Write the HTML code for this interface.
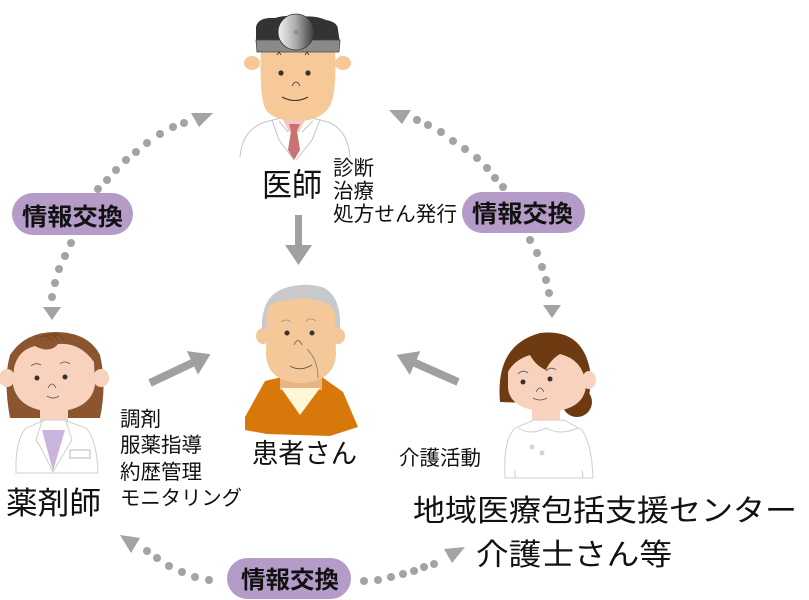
<!DOCTYPE html>
<html><head><meta charset="utf-8"><style>
html,body{margin:0;padding:0;background:#fff;}
svg{display:block;}
text{font-family:"Liberation Sans","Noto Sans CJK JP",sans-serif;fill:#111;}
.b{font-weight:bold;}
</style></head><body>
<svg width="809" height="600" viewBox="0 0 809 600" xmlns="http://www.w3.org/2000/svg">
<defs>
<linearGradient id="mir" x1="0" y1="0" x2="1" y2="0">
<stop offset="0" stop-color="#f2f2f2"/><stop offset="0.5" stop-color="#aaa"/><stop offset="1" stop-color="#3a3a3a"/>
</linearGradient>
</defs>

<!-- ===== Doctor ===== -->
<path d="M240,157 Q242,130 265,122 L285,117 L308,117 L328,122 Q348,130 350,157" fill="#fff" stroke="#c4c4c4" stroke-width="1"/>
<polygon points="282,118 306,118 299,132 289,132" fill="#f5c6c6"/>
<polygon points="289,124 300,124 297,131 300,150 294,160 288,150 291,131" fill="#c87272"/>
<path d="M272,120 L279,140 L294,160 M320,120 L312,140 L296,160 M279,121 L288,132 M313,121 L302,132" fill="none" stroke="#c4c4c4" stroke-width="1"/>
<ellipse cx="252" cy="63" rx="8" ry="7" fill="#f7c898"/>
<ellipse cx="343" cy="63" rx="8" ry="7" fill="#f7c898"/>
<path d="M261,48 L335,48 Q337,92 330,106 Q320,121 298,121 Q274,121 266,110 Q259,98 261,48 Z" fill="#f7c898"/>
<path d="M256,43 L256,27 Q258,17 275,18 Q288,14 296,18 Q312,14 326,20 Q338,22 338,30 L340,43 Z" fill="#333"/>
<polygon points="256,40 340,40 339,52 257,52" fill="#8a8a8a" stroke="#444" stroke-width="0.8"/>
<circle cx="296" cy="32" r="18" fill="url(#mir)" stroke="#333" stroke-width="0.8"/>
<circle cx="296" cy="32" r="1.5" fill="none" stroke="#555" stroke-width="0.6"/>
<path d="M277,55 l2,-3 l2,3 M305,55 l2,-3 l2,3" fill="none" stroke="#333" stroke-width="0.8"/>
<circle cx="281" cy="73" r="2.6" fill="#333"/>
<circle cx="308" cy="73" r="2.6" fill="#333"/>
<path d="M292,86 Q296,78 300,86" fill="none" stroke="#333" stroke-width="0.8"/>
<path d="M282,97 Q295,104 308,97" fill="none" stroke="#333" stroke-width="1"/>

<text x="262" y="196" font-size="32" textLength="60" lengthAdjust="spacingAndGlyphs">医師</text>
<text x="333" y="175" font-size="20.5">診断</text>
<text x="333" y="198" font-size="20.5">治療</text>
<text x="333" y="221" font-size="20.5" textLength="124" lengthAdjust="spacingAndGlyphs">処方せん発行</text>

<!-- down arrow -->
<polygon points="295,215 302,215 302,245 312,245 298.5,265 285,245 295,245" fill="#a0a0a0"/>

<!-- ===== Patient ===== -->
<polygon points="245,417 265,381 282,377 322,377 343,392 358,427 330,436 267,434 245,430" fill="#d9780a"/>
<path d="M280,377 L322,377 L322,390 L280,390 Z" fill="#e9b483"/>
<polygon points="281,388 320,388 300,415" fill="#fff8d8"/>
<path d="M262,332 Q260,296 285,288 Q303,282 322,287 Q342,295 340,332 Z" fill="#c8c9ca"/>
<ellipse cx="263" cy="336" rx="7" ry="8" fill="#f4c898"/>
<ellipse cx="338" cy="336" rx="7" ry="8" fill="#f4c898"/>
<path d="M267,310 Q272,300 286,301 Q300,296 314,300 Q332,302 335,314 L336,355 Q334,382 300,383 Q268,382 266,355 Z" fill="#f4c898"/>
<path d="M281,322 Q286,318 291,322 M306,321 Q311,317 316,321" fill="none" stroke="#999" stroke-width="0.8"/>
<circle cx="287" cy="333" r="2.5" fill="#333"/>
<circle cx="312" cy="333" r="2.5" fill="#333"/>
<path d="M294,345 Q298,336 302,345" fill="none" stroke="#555" stroke-width="0.8"/>
<path d="M290,366 Q300,372 312,365" fill="none" stroke="#555" stroke-width="0.9"/>
<path d="M307,349 Q318,360 318,378" fill="none" stroke="#777" stroke-width="0.8"/>

<text x="252" y="463" font-size="27" textLength="105" lengthAdjust="spacingAndGlyphs">患者さん</text>

<!-- ===== Pharmacist ===== -->
<path d="M10,418 Q3,380 10,355 Q25,332 55,332 Q88,332 100,355 Q107,385 100,418 Z" fill="#8b5530"/>
<ellipse cx="7" cy="378" rx="8" ry="9" fill="#f8d2bc"/>
<ellipse cx="101" cy="378" rx="8" ry="9" fill="#f8d2bc"/>
<path d="M40,404 L68,404 L68,426 L40,426 Z" fill="#f8d2bc"/>
<path d="M16,473 Q15,440 26,428 L45,420 L64,420 L86,428 Q97,440 98,473 Z" fill="#fff" stroke="#cfcfcf" stroke-width="1"/>
<polygon points="42,430 65,430 53,471" fill="#c8b4dc"/>
<path d="M42,421 L36,440 L41,448 L53,472 M66,421 L72,440 L67,448 L53,472" fill="none" stroke="#cfcfcf" stroke-width="1"/>
<rect x="70" y="450" width="20" height="8" fill="#fff" stroke="#aaa" stroke-width="0.8"/>
<path d="M14,368 Q18,350 35,346 Q50,354 58,344 Q80,342 94,362 L95,385 Q91,410 54,412 Q18,410 13,385 Z" fill="#f8d2bc"/>
<path d="M40,338 Q45,333 52,340 M46,336 Q52,332 58,340 M52,335 Q58,332 64,340" fill="none" stroke="#6e3f1e" stroke-width="0.8"/>
<path d="M31,366 Q36,362 41,365 M60,364 Q65,360 70,364" fill="none" stroke="#555" stroke-width="0.8"/>
<circle cx="37" cy="378" r="2.5" fill="#333"/>
<circle cx="65" cy="377" r="2.5" fill="#333"/>
<path d="M48,388 Q52,380 56,388" fill="none" stroke="#555" stroke-width="0.8"/>
<path d="M47,396 Q53,400 59,396" fill="none" stroke="#555" stroke-width="0.8"/>

<text x="6" y="514" font-size="31" textLength="95" lengthAdjust="spacingAndGlyphs">薬剤師</text>
<text x="120" y="426" font-size="20.5">調剤</text>
<text x="120" y="452" font-size="20.5">服薬指導</text>
<text x="120" y="479" font-size="20.5">約歴管理</text>
<text x="120" y="505" font-size="20.5" textLength="122" lengthAdjust="spacingAndGlyphs">モニタリング</text>

<!-- pharmacist arrow -->
<g transform="translate(150,383) rotate(-25.4)">
<polygon points="0,-4 47,-4 47,-13 67,0 47,13 47,4 0,4" fill="#a0a0a0"/>
</g>

<!-- ===== Nurse ===== -->
<circle cx="577" cy="402" r="15" fill="#6e3a12"/>
<path d="M500,402 Q495,345 540,333 Q582,328 590,370 Q592,395 585,405 Z" fill="#6e3a12"/>
<ellipse cx="589" cy="380" rx="7" ry="9" fill="#f8d2bc"/>
<path d="M532,404 L560,404 L560,426 L532,426 Z" fill="#f8d2bc"/>
<path d="M505,478 Q503,440 515,428 L534,420 L564,420 L582,430 Q592,445 593,478 Z" fill="#fff" stroke="#cfcfcf" stroke-width="1"/>
<path d="M518,428 Q530,436 546,428 Q560,436 578,428" fill="none" stroke="#cfcfcf" stroke-width="1"/>
<path d="M515,470 L515,478 M582,470 L583,478" fill="none" stroke="#cfcfcf" stroke-width="1"/>
<circle cx="532" cy="447" r="2.5" fill="#d4d4d4"/>
<circle cx="542" cy="453" r="2.5" fill="#d4d4d4"/>
<path d="M508,372 Q514,360 530,355 Q536,366 546,370 Q550,360 560,354 Q584,360 586,386 Q584,410 548,412 Q510,410 508,388 Z" fill="#f8d2bc"/>
<path d="M518,374 Q523,369 528,373 M546,371 Q551,366 556,370" fill="none" stroke="#555" stroke-width="0.8"/>
<circle cx="523" cy="382" r="2.5" fill="#333"/>
<circle cx="550" cy="379" r="2.5" fill="#333"/>
<path d="M536,392 Q540,384 544,392" fill="none" stroke="#555" stroke-width="0.8"/>
<path d="M533,398 Q540,402 547,398" fill="none" stroke="#555" stroke-width="0.8"/>

<text x="399" y="465" font-size="20.5" textLength="82" lengthAdjust="spacingAndGlyphs">介護活動</text>

<!-- nurse arrow -->
<g transform="translate(458,382) rotate(-156.1)">
<polygon points="0,-4 47,-4 47,-13 67,0 47,13 47,4 0,4" fill="#a0a0a0"/>
</g>

<text x="413" y="521" font-size="30" textLength="384" lengthAdjust="spacingAndGlyphs">地域医療包括支援センター</text>
<text x="476" y="565" font-size="30" textLength="196" lengthAdjust="spacingAndGlyphs">介護士さん等</text>

<!-- ===== Dotted connectors ===== -->
<g fill="#a3a3a3">
<!-- left upper -->
<circle cx="184" cy="123" r="4"/><circle cx="173" cy="127" r="4"/><circle cx="160" cy="134" r="4"/>
<circle cx="147" cy="143" r="4"/><circle cx="136" cy="152" r="4"/><circle cx="126" cy="160" r="4"/>
<circle cx="116" cy="170" r="4"/><circle cx="107" cy="180" r="4"/><circle cx="98" cy="189" r="4"/>
<!-- left lower -->
<circle cx="71" cy="243" r="4"/><circle cx="65" cy="256" r="4"/><circle cx="59" cy="269" r="4"/>
<circle cx="55" cy="283" r="4"/><circle cx="52" cy="297" r="4"/>
<polygon points="191,113 213,113 199,127"/>
<polygon points="43,307 61,307 52,320"/>
<!-- right upper -->
<circle cx="417" cy="120" r="4"/><circle cx="428" cy="125" r="4"/><circle cx="441" cy="132" r="4"/>
<circle cx="453" cy="141" r="4"/><circle cx="465" cy="149" r="4"/><circle cx="477" cy="158" r="4"/>
<circle cx="487" cy="168" r="4"/><circle cx="495" cy="178" r="4"/><circle cx="503" cy="187" r="4"/>
<!-- right lower -->
<circle cx="530" cy="240" r="4"/><circle cx="537" cy="253" r="4"/><circle cx="542" cy="267" r="4"/>
<circle cx="546" cy="280" r="4"/><circle cx="549" cy="293" r="4"/>
<polygon points="389,110 411,110 402,124"/>
<polygon points="543,305 561,305 552,318"/>
<!-- bottom left -->
<circle cx="147" cy="551" r="4"/><circle cx="157" cy="558" r="4"/><circle cx="169" cy="566" r="4"/>
<circle cx="182" cy="572" r="4"/><circle cx="195" cy="577" r="4"/><circle cx="209" cy="580" r="4"/>
<polygon points="120,535 140,538 131,553"/>
<!-- bottom right -->
<circle cx="364" cy="581" r="4"/><circle cx="378" cy="580" r="4"/><circle cx="391" cy="577" r="4"/>
<circle cx="403" cy="574" r="4"/><circle cx="414" cy="571" r="4"/><circle cx="424" cy="567" r="4"/>
<circle cx="434" cy="564" r="4"/>
<polygon points="444,549 465,547 452,563"/>
</g>

<!-- ===== Pills ===== -->
<rect x="12" y="193" width="121" height="42" rx="21" fill="#b59bc8"/>
<text class="b" x="22" y="225" font-size="24" textLength="101" lengthAdjust="spacingAndGlyphs">情報交換</text>
<rect x="462" y="192" width="123" height="41" rx="20.5" fill="#b59bc8"/>
<text class="b" x="472" y="222" font-size="24" textLength="101" lengthAdjust="spacingAndGlyphs">情報交換</text>
<rect x="227" y="558" width="124" height="41" rx="20.5" fill="#b59bc8"/>
<text class="b" x="241" y="588" font-size="24" textLength="98" lengthAdjust="spacingAndGlyphs">情報交換</text>
</svg>
</body></html>
